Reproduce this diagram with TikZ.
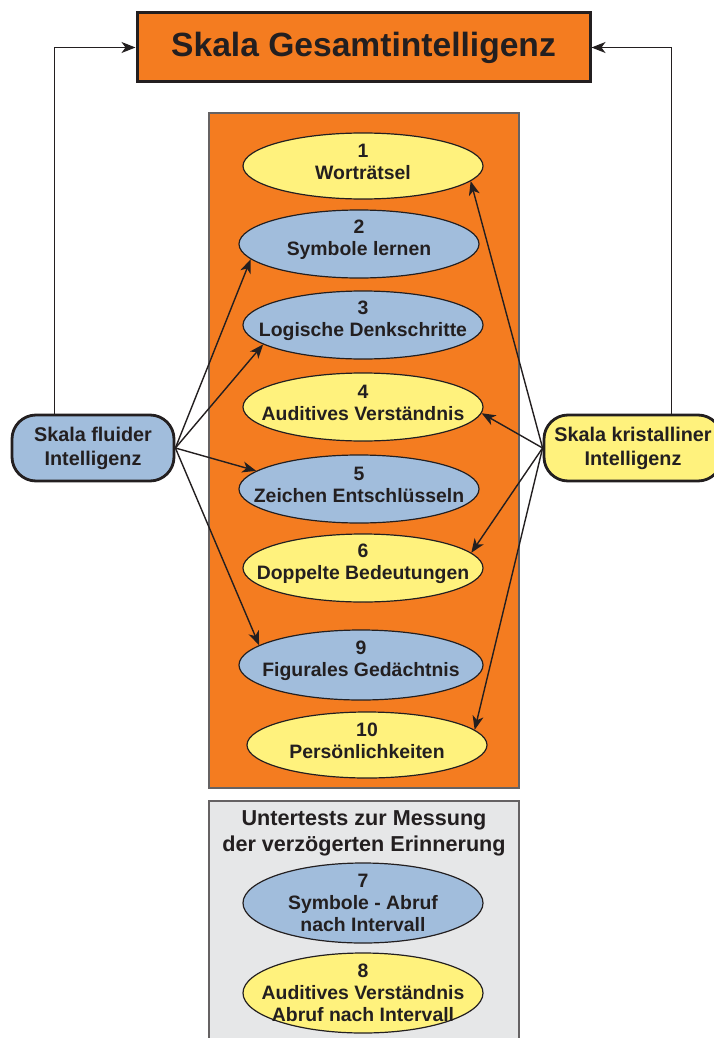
\documentclass[tikz,border=0pt]{standalone}
\usepackage{fontspec}
\setmainfont{Liberation Sans}
\usetikzlibrary{shapes.geometric, arrows.meta, calc}
\definecolor{paneorange}{RGB}{244, 124, 32}
\definecolor{testyellow}{RGB}{255, 242, 125}
\definecolor{testblue}{RGB}{161, 189, 220}
\definecolor{panegray}{RGB}{230, 231, 232}
\definecolor{inkdark}{RGB}{35, 31, 32}
\tikzset{
  testell/.style={ellipse, draw=inkdark, line width=0.6pt, inner sep=0pt, minimum width=120pt, minimum height=33pt},
  testtext/.style={font=\fontsize{9.7}{11}\selectfont\bfseries, text=inkdark, align=center},
  scalebox/.style={draw=inkdark, line width=1.4pt, rounded corners=12pt, minimum height=33pt, font=\fontsize{9.9}{12}\selectfont\bfseries, text=inkdark, align=center},
  link/.style={draw=inkdark, line width=0.7pt, -{Stealth[length=7pt, width=5.5pt, inset=2pt]}},
}

\begin{document}
\begin{tikzpicture}[x=0.5pt, y=-0.5pt]
  \useasboundingbox (0,0) rectangle (713,1038);

  % Panels
  \fill[paneorange] (209,113) rectangle (519,788);
  \draw[inkdark!70, line width=0.6pt] (209,113) rectangle (519,788);
  \fill[panegray] (209,801) rectangle (519,1045);
  \draw[inkdark!70, line width=0.6pt] (209,801) rectangle (519,1045);

  % Title
  \node[draw=inkdark, fill=paneorange, line width=1.5pt, minimum width=226.5pt, minimum height=34.5pt, font=\fontsize{16.8}{18}\selectfont\bfseries, text=inkdark] (total) at (363.5,47.5) {Skala Gesamtintelligenz};

  % Subtests
  \node[testell, fill=testyellow] (t1) at (363,166) {};
  \node[testtext] at ($(t1)+(0,-4)$) {1\\Worträtsel};
  \node[testell, fill=testblue, minimum height=34pt] (t2) at (359,244) {};
  \node[testtext] at ($(t2)+(0,-4)$) {2\\Symbole lernen};
  \node[testell, fill=testblue, minimum height=34pt] (t3) at (363,325) {};
  \node[testtext] at ($(t3)+(0,-4)$) {3\\Logische Denkschritte};
  \node[testell, fill=testyellow, minimum height=34pt] (t4) at (363,407) {};
  \node[testtext] at ($(t4)+(0,-4)$) {4\\Auditives Verständnis};
  \node[testell, fill=testblue, minimum height=34pt] (t5) at (359,489) {};
  \node[testtext] at ($(t5)+(0,-4)$) {5\\Zeichen Entschlüsseln};
  \node[testell, fill=testyellow, minimum height=34pt] (t6) at (363,568) {};
  \node[testtext] at ($(t6)+(0,-4)$) {6\\Doppelte Bedeutungen};
  \node[testell, fill=testblue, minimum width=122pt, minimum height=35pt] (t9) at (361,665) {};
  \node[testtext] at ($(t9)+(0,-4)$) {9\\Figurales Gedächtnis};
  \node[testell, fill=testyellow] (t10) at (367,745) {};
  \node[testtext] at ($(t10)+(0,-4)$) {10\\Persönlichkeiten};

  % Delayed recall
  \node[font=\fontsize{10.8}{13}\selectfont\bfseries, text=inkdark, align=center] (recall) at (364,833) {Untertests zur Messung\\der verzögerten Erinnerung};
  \node[testell, fill=testblue, minimum height=40pt] (t7) at (363,903) {};
  \node[testtext] at (t7) {7\\Symbole - Abruf\\nach Intervall};
  \node[testell, fill=testyellow, minimum height=40pt] (t8) at (363,993) {};
  \node[testtext] at (t8) {8\\Auditives Verständnis\\Abruf nach Intervall};

  % Scales
  \node[scalebox, fill=testblue, minimum width=81pt] (fluid) at (93,448) {Skala fluider\\Intelligenz};
  \node[scalebox, fill=testyellow, minimum width=89pt] (cryst) at (633,448) {Skala kristalliner\\Intelligenz};

  % Connectors
  \draw[link] (fluid.138) |- (total.west);
  \draw[link] (cryst.42) |- (total.east);
  \draw[link] (fluid.east) -- (t2.188);
  \draw[link] (fluid.east) -- (t3.191);
  \draw[link] (fluid.east) -- (t5.170);
  \draw[link] (fluid.east) -- (t9.169);
  \draw[link] (cryst.west) -- (t1.352);
  \draw[link] (cryst.west) -- (t4.357);
  \draw[link] (cryst.west) -- (t6.8);
  \draw[link] (cryst.west) -- (t10.8);
\end{tikzpicture}
\end{document}
